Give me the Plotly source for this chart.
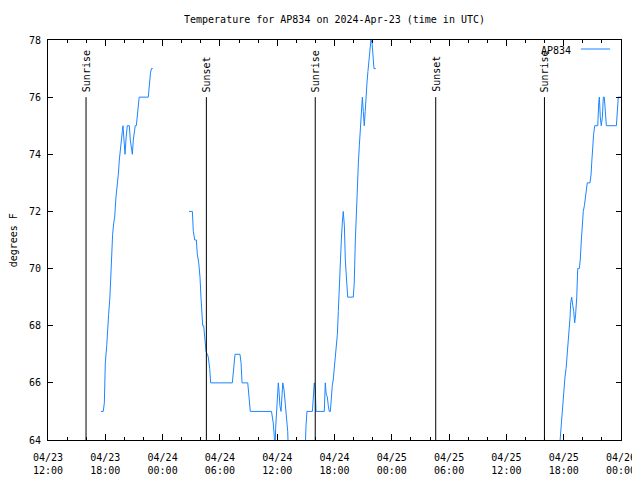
import plotly.graph_objects as go

# ---- data ----
seg1_times = ["2024-04-23 17:33", "2024-04-23 17:47", "2024-04-23 17:54", "2024-04-23 18:00",
              "2024-04-23 18:09", "2024-04-23 18:15", "2024-04-23 18:21", "2024-04-23 18:29",
              "2024-04-23 18:34", "2024-04-23 18:40", "2024-04-23 18:46", "2024-04-23 18:53",
              "2024-04-23 18:59", "2024-04-23 19:07", "2024-04-23 19:15", "2024-04-23 19:22",
              "2024-04-23 19:28", "2024-04-23 19:34", "2024-04-23 19:41", "2024-04-23 19:47",
              "2024-04-23 19:51", "2024-04-23 19:58", "2024-04-23 20:04", "2024-04-23 20:11",
              "2024-04-23 20:18", "2024-04-23 20:31", "2024-04-23 20:37", "2024-04-23 20:46",
              "2024-04-23 20:50", "2024-04-23 20:56", "2024-04-23 21:02", "2024-04-23 21:08",
              "2024-04-23 21:15", "2024-04-23 21:21", "2024-04-23 21:27", "2024-04-23 21:33",
              "2024-04-23 22:30", "2024-04-23 22:37", "2024-04-23 22:44", "2024-04-23 22:50",
              "2024-04-23 22:58"]
seg1_temps = [65.0, 65.0, 65.3, 66.7,
              67.3, 67.7, 68.4, 69.0,
              69.7, 70.5, 71.2, 71.6,
              71.8, 72.5, 72.9, 73.3,
              73.8, 74.2, 74.5, 74.8,
              75.0, 74.25, 74.0, 74.6,
              75.0, 75.0, 74.5, 74.15,
              74.0, 74.5, 74.85, 75.0,
              75.0, 75.3, 75.8, 76.0,
              76.0, 76.5, 76.85, 77.0,
              77.0]

seg2_times = ["2024-04-24 02:46", "2024-04-24 03:07", "2024-04-24 03:13", "2024-04-24 03:22",
              "2024-04-24 03:32", "2024-04-24 03:38", "2024-04-24 03:47", "2024-04-24 03:55",
              "2024-04-24 04:01", "2024-04-24 04:06", "2024-04-24 04:12", "2024-04-24 04:18",
              "2024-04-24 04:25", "2024-04-24 04:33", "2024-04-24 04:41", "2024-04-24 04:47",
              "2024-04-24 04:56", "2024-04-24 05:02", "2024-04-24 07:18", "2024-04-24 07:27",
              "2024-04-24 07:35", "2024-04-24 08:06", "2024-04-24 08:13", "2024-04-24 08:19",
              "2024-04-24 08:55", "2024-04-24 09:03", "2024-04-24 09:11", "2024-04-24 11:24",
              "2024-04-24 11:35", "2024-04-24 11:42", "2024-04-24 11:46", "2024-04-24 11:50",
              "2024-04-24 11:57", "2024-04-24 12:01", "2024-04-24 12:07", "2024-04-24 12:11",
              "2024-04-24 12:17", "2024-04-24 12:24", "2024-04-24 12:28", "2024-04-24 12:35",
              "2024-04-24 12:43", "2024-04-24 12:49", "2024-04-24 12:55", "2024-04-24 13:02",
              "2024-04-24 13:06", "2024-04-24 13:11", "2024-04-24 13:40", "2024-04-24 14:30",
              "2024-04-24 14:55", "2024-04-24 15:01", "2024-04-24 15:07", "2024-04-24 15:41",
              "2024-04-24 15:47", "2024-04-24 15:53", "2024-04-24 15:59", "2024-04-24 16:04",
              "2024-04-24 16:56", "2024-04-24 17:02", "2024-04-24 17:08", "2024-04-24 17:15",
              "2024-04-24 17:21", "2024-04-24 17:27", "2024-04-24 17:34", "2024-04-24 17:40",
              "2024-04-24 17:46", "2024-04-24 17:52", "2024-04-24 17:59", "2024-04-24 18:05",
              "2024-04-24 18:11", "2024-04-24 18:18", "2024-04-24 18:24", "2024-04-24 18:30",
              "2024-04-24 18:37", "2024-04-24 18:43", "2024-04-24 18:49", "2024-04-24 18:55",
              "2024-04-24 19:02", "2024-04-24 19:08", "2024-04-24 19:17", "2024-04-24 19:23",
              "2024-04-24 19:58", "2024-04-24 20:04", "2024-04-24 20:11", "2024-04-24 20:17",
              "2024-04-24 20:23", "2024-04-24 20:30", "2024-04-24 20:36", "2024-04-24 20:42",
              "2024-04-24 20:51", "2024-04-24 20:55", "2024-04-24 21:01", "2024-04-24 21:07",
              "2024-04-24 21:13", "2024-04-24 21:18", "2024-04-24 21:24", "2024-04-24 21:30",
              "2024-04-24 21:37", "2024-04-24 21:43", "2024-04-24 21:49", "2024-04-24 21:56",
              "2024-04-24 22:02", "2024-04-24 22:08", "2024-04-24 22:19"]
seg2_temps = [72.0, 72.0, 71.3, 71.0,
              71.0, 70.5, 70.2, 69.7,
              69.0, 68.4, 68.0, 68.0,
              67.6, 67.1, 67.0, 66.9,
              66.5, 66.0, 66.0, 66.5,
              67.0, 67.0, 66.7, 66.0,
              66.0, 65.5, 65.0, 65.0,
              64.6, 64.1, 63.5, 64.4,
              65.1, 65.75, 66.0, 65.75,
              65.2, 65.0, 65.6, 66.0,
              65.75, 65.4, 65.0, 64.7,
              64.3, 63.5, 63.0, 63.0,
              63.5, 64.5, 65.0, 65.0,
              65.6, 66.0, 65.75, 65.0,
              65.0, 66.0, 65.6, 65.5,
              65.2, 65.0, 65.0, 65.5,
              65.9, 66.1, 66.5, 66.9,
              67.3, 67.7, 68.5, 69.5,
              70.4, 71.0, 71.6, 72.0,
              71.5, 70.3, 69.5, 69.0,
              69.0, 69.5, 71.0, 72.0,
              73.0, 73.7, 74.3, 75.0,
              75.7, 76.0, 75.5, 75.0,
              75.5, 76.2, 76.5, 76.9,
              77.3, 77.7, 78.0, 77.9,
              77.4, 77.0, 77.0]

seg3_times = ["2024-04-25 17:32", "2024-04-25 17:43", "2024-04-25 17:49", "2024-04-25 17:56",
              "2024-04-25 18:02", "2024-04-25 18:08", "2024-04-25 18:15", "2024-04-25 18:21",
              "2024-04-25 18:27", "2024-04-25 18:33", "2024-04-25 18:40", "2024-04-25 18:44",
              "2024-04-25 18:50", "2024-04-25 18:57", "2024-04-25 19:03", "2024-04-25 19:09",
              "2024-04-25 19:15", "2024-04-25 19:22", "2024-04-25 19:28", "2024-04-25 19:38",
              "2024-04-25 19:44", "2024-04-25 19:51", "2024-04-25 19:57", "2024-04-25 20:03",
              "2024-04-25 20:10", "2024-04-25 20:16", "2024-04-25 20:22", "2024-04-25 20:28",
              "2024-04-25 20:45", "2024-04-25 20:52", "2024-04-25 20:56", "2024-04-25 21:02",
              "2024-04-25 21:08", "2024-04-25 21:15", "2024-04-25 21:34", "2024-04-25 21:40",
              "2024-04-25 21:44", "2024-04-25 21:50", "2024-04-25 21:56", "2024-04-25 22:03",
              "2024-04-25 22:09", "2024-04-25 22:15", "2024-04-25 22:21", "2024-04-25 22:28",
              "2024-04-25 23:31", "2024-04-25 23:37", "2024-04-25 23:43", "2024-04-26 00:00"]
seg3_temps = [63.6, 64.5, 64.8, 65.3,
              65.75, 66.2, 66.5, 66.9,
              67.3, 67.7, 68.3, 68.8,
              69.0, 68.7, 68.5, 68.1,
              68.4, 69.0, 70.0, 70.0,
              70.3, 71.0, 71.6, 72.0,
              72.2, 72.5, 72.9, 73.0,
              73.0, 73.3, 73.7, 74.3,
              74.7, 75.0, 75.0, 75.8,
              76.0, 75.3, 75.0, 75.3,
              76.0, 76.0, 75.55, 75.0,
              75.0, 75.55, 76.0, 76.0]

event_times = ["2024-04-23 15:59", "2024-04-24 04:35", "2024-04-24 15:59",
               "2024-04-25 04:36", "2024-04-25 15:59"]
event_labels = ["Sunrise", "Sunset", "Sunrise", "Sunset", "Sunrise"]

x_tick_vals = ["2024-04-23 12:00", "2024-04-23 18:00", "2024-04-24 00:00", "2024-04-24 06:00",
               "2024-04-24 12:00", "2024-04-24 18:00", "2024-04-25 00:00", "2024-04-25 06:00",
               "2024-04-25 12:00", "2024-04-25 18:00", "2024-04-26 00:00"]
x_tick_text = ["04/23<br>12:00", "04/23<br>18:00", "04/24<br>00:00", "04/24<br>06:00",
               "04/24<br>12:00", "04/24<br>18:00", "04/25<br>00:00", "04/25<br>06:00",
               "04/25<br>12:00", "04/25<br>18:00", "04/26<br>00:00"]
y_tick_vals = [64, 66, 68, 70, 72, 74, 76, 78]

series_name = "AP834"
title_text = "Temperature for AP834 on 2024-Apr-23 (time in UTC)"
y_label = "degrees F"

# ---- figure ----
FONT = "DejaVu Sans Mono"
LINE_COLOR = "#1a86ff"
# the page body has an 8px margin, so the figure is sized to fit inside it
FIG_W, FIG_H = 632, 472

xs = seg1_times + [None] + seg2_times + [None] + seg3_times
ys = seg1_temps + [None] + seg2_temps + [None] + seg3_temps

fig = go.Figure()
fig.add_trace(go.Scatter(x=xs, y=ys, mode="lines", name=series_name,
                         line=dict(color=LINE_COLOR, width=1),
                         connectgaps=False, showlegend=False))

for t, lab in zip(event_times, event_labels):
    fig.add_shape(type="line", xref="x", yref="y", x0=t, x1=t, y0=64, y1=76,
                  line=dict(color="black", width=1))
    fig.add_annotation(x=t, y=76, xref="x", yref="y", text=lab, textangle=-90,
                       showarrow=False, yanchor="bottom", xanchor="center", yshift=3,
                       font=dict(family=FONT, size=10, color="black"))

# legend (gnuplot style: text then line sample)
fig.add_annotation(xref="paper", yref="paper", x=0.9162, y=0.975, text=series_name,
                   showarrow=False, xanchor="right", yanchor="middle",
                   font=dict(family=FONT, size=10, color="black"))
fig.add_shape(type="line", xref="paper", yref="paper", x0=0.930, x1=0.981,
              y0=0.9775, y1=0.9775, line=dict(color=LINE_COLOR, width=1))

# y label
fig.add_annotation(xref="paper", yref="paper", x=-0.0605, y=0.5, text=y_label,
                   textangle=-90, showarrow=False, xanchor="center", yanchor="middle",
                   font=dict(family=FONT, size=10, color="black"))

fig.update_layout(
    width=FIG_W, height=FIG_H,
    margin=dict(l=40, r=19, t=32, b=40),
    paper_bgcolor="white", plot_bgcolor="white",
    title=dict(text=title_text, x=0.5, xref="paper", y=1 - 11 / FIG_H, yanchor="middle",
               font=dict(family=FONT, size=10, color="black")),
    font=dict(family=FONT, size=10, color="black"),
    xaxis=dict(type="date", range=["2024-04-23 12:00", "2024-04-26 00:00"],
               tickmode="array", tickvals=x_tick_vals, ticktext=x_tick_text,
               ticks="inside", ticklen=6, tickcolor="black", tickwidth=1,
               ticklabelstandoff=8, automargin=False,
               showline=True, linecolor="black", linewidth=1, mirror="ticks",
               showgrid=False, zeroline=False,
               minor=dict(tickmode="linear", tick0="2024-04-23 12:00", dtick=2 * 3600 * 1000,
                          ticks="inside", ticklen=3, tickcolor="black", showgrid=False),
               tickfont=dict(family=FONT, size=10, color="black")),
    yaxis=dict(range=[64, 78], tickmode="array", tickvals=y_tick_vals,
               ticks="inside", ticklen=5, tickcolor="black", tickwidth=1,
               ticklabelstandoff=4, automargin=False,
               showline=True, linecolor="black", linewidth=1, mirror="ticks",
               showgrid=False, zeroline=False,
               tickfont=dict(family=FONT, size=10, color="black")),
)

fig.write_html("out.html")
